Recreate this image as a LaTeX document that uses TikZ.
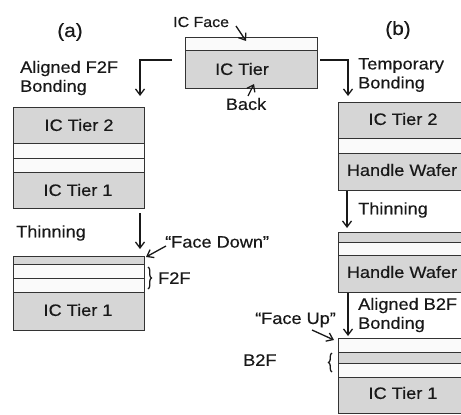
\documentclass[tikz,border=0pt]{standalone}
\usepackage{fontspec}
\setmainfont[FakeStretch=1.1,FakeBold=0.4]{Liberation Sans}
\usetikzlibrary{arrows.meta,decorations.pathreplacing}
\begin{document}
\begin{tikzpicture}[x=1pt,y=-1pt,
  every node/.style={font=\fontsize{16.5}{19}\selectfont, inner sep=0pt, text=black!90},
  lbl/.style={anchor=west, align=left},
  gl/.style={draw=black!80, line width=0.9pt, fill=gray!32},
  wl/.style={draw=black!80, line width=0.9pt, fill=gray!4},
  arr/.style={draw=black!90, line width=1.3pt, -{Straight Barb[length=6pt,width=9pt]}},
  brc/.style={draw=black!90, line width=1.3pt, decorate, decoration={brace, amplitude=3.5pt}},
]
\fill[white] (0,0) rectangle (461,415);
\clip (0,0) rectangle (461,415);

% top wafer
\draw[wl] (185,37) rectangle (317,50);
\draw[gl] (185,50) rectangle (317,88);
\node (ictier) at (242,69) {IC Tier};

% left stack 1
\draw[gl] (13,107) rectangle (144,143);
\draw[wl] (13,143) rectangle (144,158);
\draw[wl] (13,158) rectangle (144,172);
\draw[gl] (13,172) rectangle (144,208);
\node (l1t2) at (79,125) {IC Tier 2};
\node (l1t1) at (78,190) {IC Tier 1};

% left stack 2
\draw[gl] (13,256) rectangle (144,264);
\draw[wl] (13,264) rectangle (144,278);
\draw[wl] (13,278) rectangle (144,292);
\draw[gl] (13,292) rectangle (144,330);
\node (l2t1) at (78,310) {IC Tier 1};

% right stack 1
\draw[gl] (338,102) rectangle (470,138);
\draw[wl] (338,138) rectangle (470,153);
\draw[gl] (338,153) rectangle (470,190);
\node (r1t2) at (403,119) {IC Tier 2};
\node (r1hw) at (402,170) {Handle Wafer};

% right stack 2
\draw[gl] (338,232) rectangle (470,242);
\draw[wl] (338,242) rectangle (470,255);
\draw[gl] (338,255) rectangle (470,292);
\node (r2hw) at (402,272) {Handle Wafer};

% right stack 3
\draw[wl] (338,338) rectangle (470,352);
\draw[gl] (338,352) rectangle (470,363);
\draw[wl] (338,363) rectangle (470,377);
\draw[gl] (338,377) rectangle (470,413);
\node (r3t1) at (403,393) {IC Tier 1};

% labels
\node[font=\fontsize{19}{21}\selectfont] (la) at (70,32) {(a)};
\node[font=\fontsize{19}{21}\selectfont] (lb) at (398,30) {(b)};
\node[lbl, font=\fontsize{14.5}{17}\selectfont] (face) at (173,22) {IC Face};
\node (back) at (246,104) {Back};
\node[lbl] (f2fb) at (20,78) {Aligned F2F\\Bonding};
\node[lbl] (tmpb) at (358,75) {Temporary\\Bonding};
\node[lbl] (thinl) at (16,233) {Thinning};
\node[lbl] (thinr) at (358,210) {Thinning};
\node[lbl] (fdown) at (165,242) {“Face Down”};
\node[lbl] (f2f) at (158,278) {F2F};
\node[lbl] (b2fb) at (358,315) {Aligned B2F\\Bonding};
\node[lbl] (fup) at (255,320) {“Face Up”};
\node[lbl] (b2f) at (243,360) {B2F};

% arrow coordinates
\coordinate (a1s) at (172,60);  \coordinate (a1e) at (140,96);
\coordinate (a2s) at (320,60);  \coordinate (a2e) at (348,96);
\coordinate (a3s) at (140,213); \coordinate (a3e) at (140,249);
\coordinate (a4s) at (347,191); \coordinate (a4e) at (347,228);
\coordinate (a5s) at (348,293); \coordinate (a5e) at (348,336);
\coordinate (fcs) at (236,26);  \coordinate (fce) at (246,41);
\coordinate (bks) at (248,96);  \coordinate (bke) at (254,84);
\coordinate (fds) at (166,246); \coordinate (fde) at (146,257);
\coordinate (fus) at (312,330); \coordinate (fue) at (334,340);

\draw[arr] (a1s) -| (a1e);
\draw[arr] (a2s) -| (a2e);
\draw[arr] (a3s) -- (a3e);
\draw[arr] (a4s) -- (a4e);
\draw[arr] (a5s) -- (a5e);
\draw[arr] (fcs) -- (fce);
\draw[arr] (bks) -- (bke);
\draw[arr] (fds) -- (fde);
\draw[arr] (fus) -- (fue);

% braces
\coordinate (bf1) at (148,267); \coordinate (bf2) at (148,289);
\coordinate (bb1) at (332,372); \coordinate (bb2) at (332,353);
\draw[brc] (bf1) -- (bf2);
\draw[brc] (bb1) -- (bb2);
\end{tikzpicture}
\end{document}
